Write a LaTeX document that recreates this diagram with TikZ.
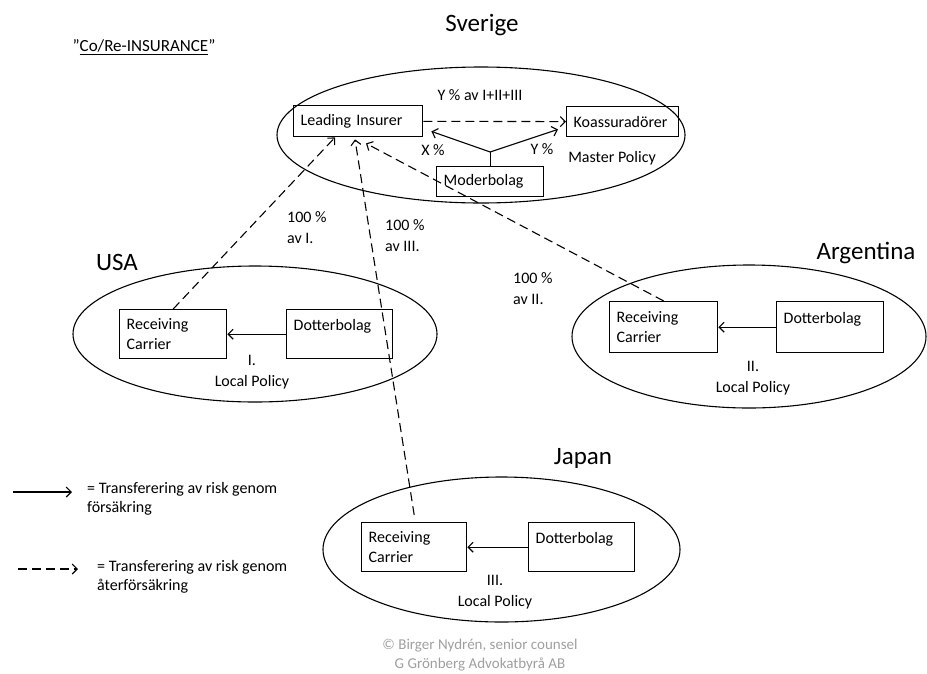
\documentclass[tikz,border=0pt]{standalone}
\usepackage{fontspec}
\setmainfont{Carlito}
\usetikzlibrary{arrows.meta}

\tikzset{
	box/.style={draw, line width=1.4pt, anchor=north west, align=left, inner xsep=7pt, inner ysep=0pt, font=\fontsize{16}{19.5}\selectfont},
	land/.style={line width=1.1pt},
	txt/.style={inner sep=0pt, font=\fontsize{16}{21}\selectfont},
	country/.style={inner sep=0pt, font=\fontsize{25}{30}\selectfont},
	ins/.style={line width=1.1pt, -{Straight Barb[length=5pt,width=10pt]}},
	reins/.style={ins, dash pattern=on 9pt off 5pt},
}

\begin{document}
\begin{tikzpicture}[x=1pt, y=-1pt]
		\useasboundingbox (0,0) rectangle (927,673);
		\node[inner sep=0pt, font=\fontsize{17}{20}\selectfont] (title) at (144,47) {”\underline{Co/Re-INSURANCE}”};

		\node[country] (sverige) at (482,25) {Sverige};
		\node[country] (usa) at (117,262) {USA};
		\node[country] (argentina) at (866,253) {Argentina};
		\node[country] (japan) at (583,458) {Japan};

		\draw[land] (481,135) ellipse [x radius=204pt, y radius=68pt];
		\draw[land] (255,334) ellipse [x radius=182pt, y radius=68pt];
		\draw[land] (749,336.5) ellipse [x radius=177pt, y radius=71.5pt];
		\draw[land] (501.5,549.5) ellipse [x radius=178.5pt, y radius=72.5pt];

		\node[box, text width=115pt, minimum height=31pt] (lead) at (293,105) {Leading Insurer};
		\node[box, text width=98pt, minimum height=30pt] (koas) at (566,106) {Koassuradörer};
		\node[box, text width=93pt, minimum height=30pt] (moder) at (436,166) {Moderbolag};

		\node[box, text width=93pt, minimum height=49pt] (usaRC) at (119,309) {Receiving\\Carrier};
		\node[box, text width=92pt, minimum height=49pt] (usaDB) at (286,309) {Dotterbolag\\~};
		\node[box, text width=94pt, minimum height=51pt] (argRC) at (609,301) {Receiving\\Carrier};
		\node[box, text width=93pt, minimum height=51pt] (argDB) at (776,301) {Dotterbolag\\~};
		\node[box, text width=91pt, minimum height=49pt] (jpRC) at (361,522) {Receiving\\Carrier};
		\node[box, text width=92pt, minimum height=49pt] (jpDB) at (528,522) {Dotterbolag\\~};

		\draw[ins] (usaDB) -- (usaRC);
		\draw[ins] (argDB) -- (argRC);
		\draw[ins] (jpDB) -- (jpRC);

		\draw[reins] (lead) -- (koas);
		\coordinate (split) at ([yshift=14pt]moder.north);
		\draw[line width=1.1pt] (moder) -- (split);
		\draw[ins] (split) -- ([xshift=8pt,yshift=6pt]lead.south east);
		\draw[ins] (split) -- ([xshift=-8pt,yshift=8pt]koas.south west);

		\draw[reins] (usaRC.north) -- ([xshift=42pt]lead.south west);
		\draw[reins] ([yshift=7pt]jpRC.north) -- ([xshift=62pt,yshift=-2pt]lead.south west);
		\draw[reins] (argRC.north) -- ([xshift=73pt,yshift=-6pt]lead.south west);

		\node[txt] (ytot) at (480,95) {Y \% av I+II+III};
		\node[txt] (xpct) at (433,150) {X \%};
		\node[txt] (ypct) at (542,149) {Y \%};
		\node[txt] (master) at (612,158) {Master Policy};

		\node[txt, align=left, anchor=west] (pctI) at (287,228) {100 \%\\av I.};
		\node[txt, align=left, anchor=west] (pctIII) at (385,236) {100 \%\\av III.};
		\node[txt, align=left, anchor=west] (pctII) at (513,289) {100 \%\\av II.};

		\node[txt, align=center] (polI) at (252,372) {I.\\Local Policy};
		\node[txt, align=center] (polII) at (753,378) {II.\\Local Policy};
		\node[txt, align=center] (polIII) at (495,592) {III.\\Local Policy};

		\coordinate (solidA) at (13,492);
		\coordinate (solidB) at (72,492);
		\draw[ins] (solidA) -- (solidB);
		\node[txt, align=left, anchor=west, font=\fontsize{16}{19}\selectfont] (solidtxt) at (87,498.5) {= Transferering av risk genom\\försäkring};
		\coordinate (dashA) at (18,569);
		\coordinate (dashB) at (78,569);
		\draw[reins] (dashA) -- (dashB);
		\node[txt, align=left, anchor=west, font=\fontsize{16}{19}\selectfont] (dashtxt) at (97,577) {= Transferering av risk genom\\återförsäkring};

		\node[txt, align=center, text=gray!75, font=\fontsize{15}{19}\selectfont] (copy) at (480,655) {© Birger Nydrén, senior counsel\\G Grönberg Advokatbyrå AB};
\end{tikzpicture}
\end{document}
